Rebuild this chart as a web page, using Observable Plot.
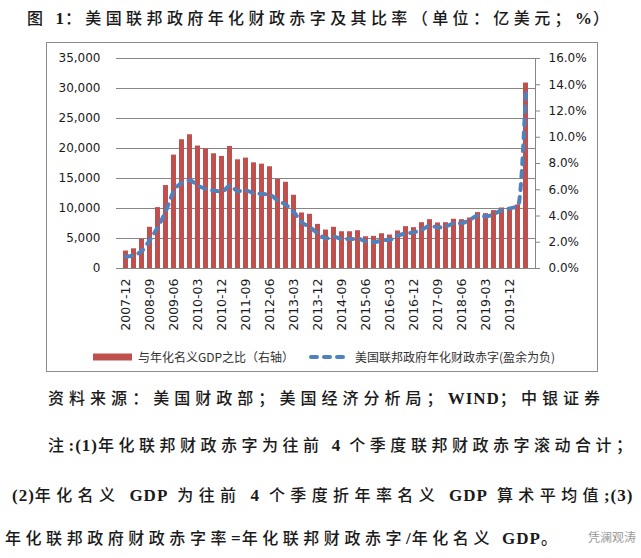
<!DOCTYPE html>
<html><head><meta charset="utf-8">
<script src="https://cdn.jsdelivr.net/npm/d3@7"></script>
<script src="https://cdn.jsdelivr.net/npm/@observablehq/plot@0.6"></script>
<style>
body{margin:0;background:#fff;}
#wrap{position:relative;width:641px;height:558px;overflow:hidden;font-family:"Noto Sans CJK SC",sans-serif;}
.jl{position:absolute;color:#1a1a1a;line-height:16px;font-size:16px;font-weight:500;white-space:nowrap;}
.jl b{font-family:"Liberation Serif",serif;font-weight:700;font-size:17px;letter-spacing:1px !important;}
#box{position:absolute;left:46px;top:42px;width:552px;height:330px;border:1px solid #8c8c8c;box-sizing:border-box;}
#chart{position:absolute;left:46px;top:42px;}
#legend{position:absolute;left:0;top:350px;width:641px;height:14px;font-family:"Noto Sans CJK SC",sans-serif;font-size:12px;color:#333;}
#legend span{position:absolute;top:0;line-height:14px;white-space:nowrap;}
#legend svg{position:absolute;top:0;}
</style></head><body>
<div id="wrap">
  <div class="jl" data-w="582" style="left:27px;top:9px;">图 <b>1</b>：美国联邦政府年化财政赤字及其比率（单位：亿美元；<b>%</b>）</div>
  <div id="box"></div>
  <div id="chart"></div>
  <div id="legend"></div>
  <div class="jl" data-w="552" style="left:48px;top:389px;">资料来源：美国财政部；美国经济分析局；<b>WIND</b>；中银证券</div>
  <div class="jl" data-w="584" style="left:48px;top:436px;">注<b>:(1)</b>年化联邦财政赤字为往前 <b>4</b> 个季度联邦财政赤字滚动合计；</div>
  <div class="jl" data-w="616" style="left:12px;top:486px;"><b>(2)</b>年化名义 <b>GDP</b> 为往前 <b>4</b> 个季度折年率名义 <b>GDP</b> 算术平均值<b>;(3)</b></div>
  <div class="jl" data-w="552" style="left:5px;top:529px;">年化联邦政府财政赤字率<b>=</b>年化联邦财政赤字<b>/</b>年化名义 <b>GDP</b>。</div>
  <div style="position:absolute;left:588px;top:530px;font-family:'Noto Sans CJK SC',sans-serif;font-size:12px;color:#9a9a9a;line-height:14px;">凭澜观涛</div>
</div>
<script>
const quarters = [
  "2007-12",
  "2008-03","2008-06","2008-09","2008-12",
  "2009-03","2009-06","2009-09","2009-12",
  "2010-03","2010-06","2010-09","2010-12",
  "2011-03","2011-06","2011-09","2011-12",
  "2012-03","2012-06","2012-09","2012-12",
  "2013-03","2013-06","2013-09","2013-12",
  "2014-03","2014-06","2014-09","2014-12",
  "2015-03","2015-06","2015-09","2015-12",
  "2016-03","2016-06","2016-09","2016-12",
  "2017-03","2017-06","2017-09","2017-12",
  "2018-03","2018-06","2018-09","2018-12",
  "2019-03","2019-06","2019-09","2019-12",
  "2020-03","2020-06"
];
// 美国联邦政府年化财政赤字（亿美元，左轴）
const deficit = [1950,2230,2950,4790,6970,9640,12990,14270,14660,13820,13270,12990,12820,13820,12880,12990,12540,12430,12270,11320,10590,9360,7690,6860,5850,5020,5300,4910,4910,4960,4510,4400,4680,4800,5470,5850,6020,6470,7140,6850,7020,7520,7580,8140,8810,8690,9090,9760,10030,10430,30000];
// 与年化名义GDP之比（%，右轴）
const ratio = [1.33,1.50,2.22,3.14,4.64,6.32,8.64,9.81,10.19,9.33,9.12,8.74,8.54,9.30,8.28,8.41,8.05,7.95,7.75,6.78,6.57,5.58,4.23,4.13,3.36,2.93,3.14,2.80,2.80,2.88,2.42,2.45,2.65,2.55,2.86,3.19,3.11,3.49,3.72,3.47,3.49,3.75,3.72,3.85,4.26,4.18,4.41,4.61,4.61,4.84,14.13];
const leftTicks = [0,5000,10000,15000,20000,25000,30000,35000];
const rightTicks = [0,2,4,6,8,10,12,14,16];
const xTickLabels = ["2007-12","2008-09","2009-06","2010-03","2010-12","2011-09","2012-06","2013-03","2013-12","2014-09","2015-06","2016-03","2016-12","2017-09","2018-06","2019-03","2019-12"];
const seriesNames = ["与年化名义GDP之比（右轴）","美国联邦政府年化财政赤字(盈余为负)"];

const K = 35000 / 16;
const data = quarters.map((q, i) => ({q, deficit: deficit[i], ratio: ratio[i], ratioL: ratio[i] * K}));
const barColor = "#C0504D", lineColor = "#4F81BD", gridColor = "#868686";

const chart = Plot.plot({
  width: 552, height: 330,
  marginLeft: 70, marginRight: 63, marginTop: 16, marginBottom: 104,
  style: {fontFamily: "DejaVu Sans", fontSize: "12px", color: "#1a1a1a", background: "transparent"},
  x: {type: "band", domain: quarters, paddingInner: 0.4, paddingOuter: 0.25},
  y: {domain: [0, 35000]},
  marks: [
    Plot.gridY(leftTicks.slice(1), {stroke: gridColor, strokeOpacity: 1}),
    Plot.barY(data, {x: "q", y: "ratioL", fill: barColor}),
    Plot.ruleY([0], {stroke: gridColor}),
    Plot.frame({anchor: "right", stroke: gridColor}),
    Plot.line(data, {x: "q", y: "deficit", stroke: lineColor, strokeWidth: 4, strokeDasharray: "6,7", strokeLinecap: "round", curve: "monotone-x"}),
    Plot.axisY(leftTicks, {anchor: "left", tickSize: 0, tickPadding: 16, tickFormat: d3.format(","), label: null}),
    Plot.axisY(rightTicks.map(p => p * K), {anchor: "right", tickSize: 4, tickPadding: 9, stroke: gridColor, tickFormat: v => (v / K).toFixed(1) + "%", label: null}),
    Plot.axisX(xTickLabels, {tickSize: 0, tickPadding: 10, tickRotate: -90, fontSize: 12.5, label: null})
  ]
});
document.getElementById("chart").appendChild(chart);

const lg = document.getElementById("legend");
lg.innerHTML =
  `<svg style="left:93px" width="39" height="14"><rect x="0" y="3.5" width="39" height="7" fill="${barColor}"/></svg>` +
  `<span style="left:138px">${seriesNames[0]}</span>` +
  `<svg style="left:309px" width="42" height="14"><line x1="2" y1="7" x2="40" y2="7" stroke="${lineColor}" stroke-width="4" stroke-dasharray="6,7" stroke-linecap="round"/></svg>` +
  `<span style="left:355px">${seriesNames[1]}</span>`;

// spread caption lines to their measured widths with letter-spacing (Latin runs keep tight spacing)
document.querySelectorAll(".jl").forEach(el => {
  const target = +el.dataset.w;
  el.style.letterSpacing = "0px";
  const w = el.getBoundingClientRect().width;
  const total = [...el.textContent].length;
  const nb = [...el.querySelectorAll("b")].reduce((s, b) => s + [...b.textContent].length, 0);
  const n1 = total - nb;
  const ls = (target - w) / Math.max(1, n1 - 1);
  el.style.letterSpacing = ls + "px";
});
</script>
</body></html>
